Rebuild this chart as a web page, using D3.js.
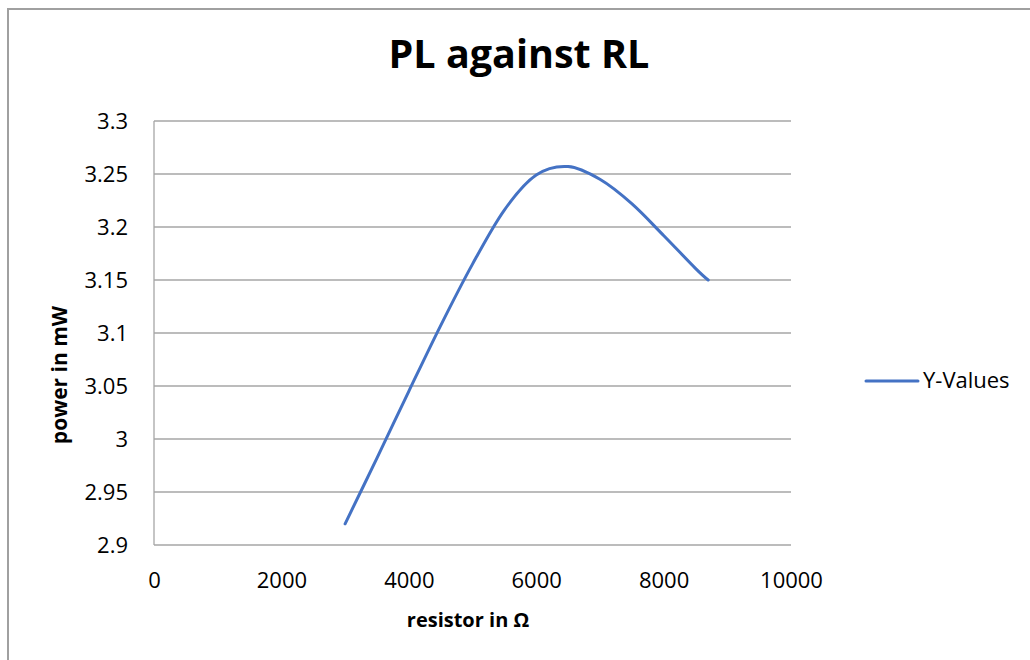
<!DOCTYPE html>
<html>
<head>
<meta charset="utf-8">
<script src="https://cdn.jsdelivr.net/npm/d3@7"></script>
<style>
  html, body { margin: 0; padding: 0; background: #fff; }
  svg { display: block; font-family: "Open Sans", "Noto Sans", sans-serif; }
</style>
</head>
<body>
<svg id="chart" width="1030" height="660"></svg>
<script>
// ---- data ----
const resistance = [3000, 3500, 4000, 4500, 5000, 5500, 6000, 6500, 7000, 7500, 8000, 8500, 8700];
const power = [2.92, 2.982, 3.045, 3.107, 3.165, 3.216, 3.249, 3.257, 3.245, 3.222, 3.192, 3.161, 3.15];
const xTicks = [0, 2000, 4000, 6000, 8000, 10000];
const yTicks = [2.9, 2.95, 3.0, 3.05, 3.1, 3.15, 3.2, 3.25, 3.3];
const titleText = "PL against RL";
const xTitle = "resistor in Ω";
const yTitle = "power in mW";
const seriesName = "Y-Values";

// ---- layout ----
const svg = d3.select("#chart");
const W = 1030, H = 660;
const plot = { left: 154, right: 791, top: 121, bottom: 545 };
const lineColor = "#4472C4";
const gridColor = "#a6a6a6";

// chart border (only left/top visible in frame)
svg.append("path")
  .attr("d", `M8,${H + 5} L8,9 L${W + 5},9`)
  .attr("fill", "none").attr("stroke", "#a0a0a0").attr("stroke-width", 2);

const x = d3.scaleLinear().domain([0, 10000]).range([plot.left, plot.right]);
const y = d3.scaleLinear().domain([2.9, 3.3]).range([plot.bottom, plot.top]);

// gridlines
svg.append("g").selectAll("line").data(yTicks).join("line")
  .attr("x1", plot.left).attr("x2", plot.right)
  .attr("y1", d => y(d)).attr("y2", d => y(d))
  .attr("stroke", gridColor).attr("stroke-width", 1.3);

// vertical axis line
svg.append("line")
  .attr("x1", plot.left).attr("x2", plot.left)
  .attr("y1", plot.top).attr("y2", plot.bottom)
  .attr("stroke", gridColor).attr("stroke-width", 1.3);

// y axis labels
const yAxis = d3.axisLeft(y).tickValues(yTicks).tickSize(0).tickPadding(0)
  .tickFormat(d => d3.format("")(+d.toFixed(2)));
const gy = svg.append("g").attr("transform", `translate(${128},0)`).call(yAxis);
gy.select(".domain").remove();
gy.selectAll("text").attr("font-size", 22).attr("fill", "#000")
  .attr("font-family", "Open Sans").attr("dy", "0.36em");

// x axis labels
const xAxis = d3.axisBottom(x).tickValues(xTicks).tickSize(0).tickPadding(0)
  .tickFormat(d3.format("d"));
const gx = svg.append("g").attr("transform", `translate(0,${588})`).call(xAxis);
gx.select(".domain").remove();
gx.selectAll("text").attr("font-size", 22).attr("fill", "#000")
  .attr("font-family", "Open Sans").attr("dy", "0");

// title
svg.append("text").attr("x", 519).attr("y", 68).attr("text-anchor", "middle")
  .attr("font-size", 39.5).attr("font-weight", "bold").attr("fill", "#000")
  .text(titleText);

// axis titles
svg.append("text").attr("x", 468).attr("y", 627).attr("text-anchor", "middle")
  .attr("font-size", 20).attr("font-weight", "bold").attr("fill", "#000")
  .text(xTitle);
svg.append("text").attr("transform", `translate(67,375) rotate(-90)`)
  .attr("text-anchor", "middle")
  .attr("font-size", 21).attr("font-weight", "bold").attr("fill", "#000")
  .text(yTitle);

// series line (smoothed like the spreadsheet's smooth scatter line)
const data = resistance.map((r, i) => ({ r, p: power[i] }));
const line = d3.line().x(d => x(d.r)).y(d => y(d.p)).curve(d3.curveCardinal.tension(0));
svg.append("path").datum(data)
  .attr("d", line)
  .attr("fill", "none").attr("stroke", lineColor)
  .attr("stroke-width", 3).attr("stroke-linecap", "round");

// legend
svg.append("line").attr("x1", 866).attr("x2", 918).attr("y1", 381).attr("y2", 381)
  .attr("stroke", lineColor).attr("stroke-width", 3).attr("stroke-linecap", "round");
svg.append("text").attr("x", 923).attr("y", 388).attr("font-size", 22).attr("fill", "#000")
  .text(seriesName);
</script>
</body>
</html>
